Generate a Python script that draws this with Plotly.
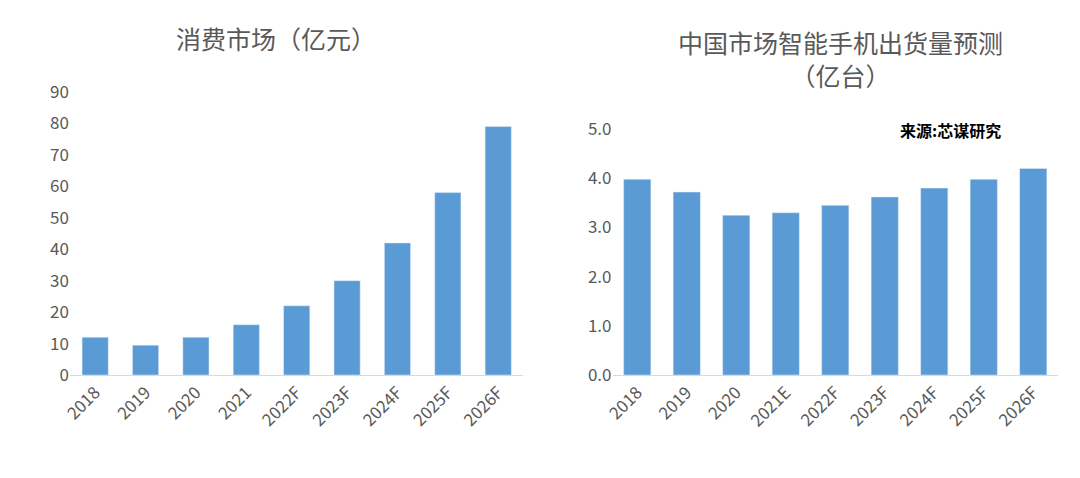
import plotly.graph_objects as go
from plotly.subplots import make_subplots

years_left = ["2018", "2019", "2020", "2021", "2022F", "2023F", "2024F", "2025F", "2026F"]
consumer_market = [12, 9.5, 12, 16, 22, 30, 42, 58, 79]

years_right = ["2018", "2019", "2020", "2021E", "2022F", "2023F", "2024F", "2025F", "2026F"]
phone_shipments = [3.98, 3.72, 3.25, 3.3, 3.45, 3.62, 3.8, 3.98, 4.2]

blue = "#5B9BD5"
font = "Noto Sans CJK SC"

fig = make_subplots(rows=1, cols=2)
fig.add_trace(go.Bar(x=years_left, y=consumer_market, marker_color=blue, width=0.52), 1, 1)
fig.add_trace(go.Bar(x=years_right, y=phone_shipments, marker_color=blue, width=0.55), 1, 2)

fig.update_xaxes(tickangle=-45, showline=True, linecolor="#d9d9d9", ticks="",
                 tickfont=dict(size=17, color="#595959"))
fig.update_yaxes(showgrid=False, zeroline=False, ticks="",
                 tickfont=dict(size=17, color="#595959"))
fig.update_xaxes(domain=[0.002, 0.46], row=1, col=1)
fig.update_xaxes(domain=[0.55, 1.0], row=1, col=2)
fig.update_yaxes(range=[0, 90], dtick=10, domain=[0, 1], row=1, col=1)
fig.update_yaxes(range=[0, 5], dtick=1, tickformat=".1f", domain=[0, 0.869], row=1, col=2)

fig.update_layout(
    width=1080, height=478, showlegend=False,
    paper_bgcolor="white", plot_bgcolor="white",
    font=dict(family=font),
    margin=dict(l=60, r=30, t=84, b=111),
    annotations=[
        dict(text="消费市场（亿元）", x=(268 - 60) / 990, y=(375 - 38) / 283, xref="paper", yref="paper",
             xanchor="center", yanchor="middle", showarrow=False, font=dict(size=25, color="#595959")),
        dict(text="中国市场智能手机出货量预测<br>（亿台）", x=(832 - 60) / 990, y=(375 - 58) / 283,
             xref="paper", yref="paper", xanchor="center", yanchor="middle",
             showarrow=False, font=dict(size=25, color="#595959")),
        dict(text="<b>来源:芯谋研究</b>", x=(942 - 60) / 990, y=(375 - 130) / 283, xref="paper", yref="paper",
             xanchor="center", yanchor="middle", showarrow=False, font=dict(size=16, color="black")),
    ],
)

fig.write_html("out.html")
